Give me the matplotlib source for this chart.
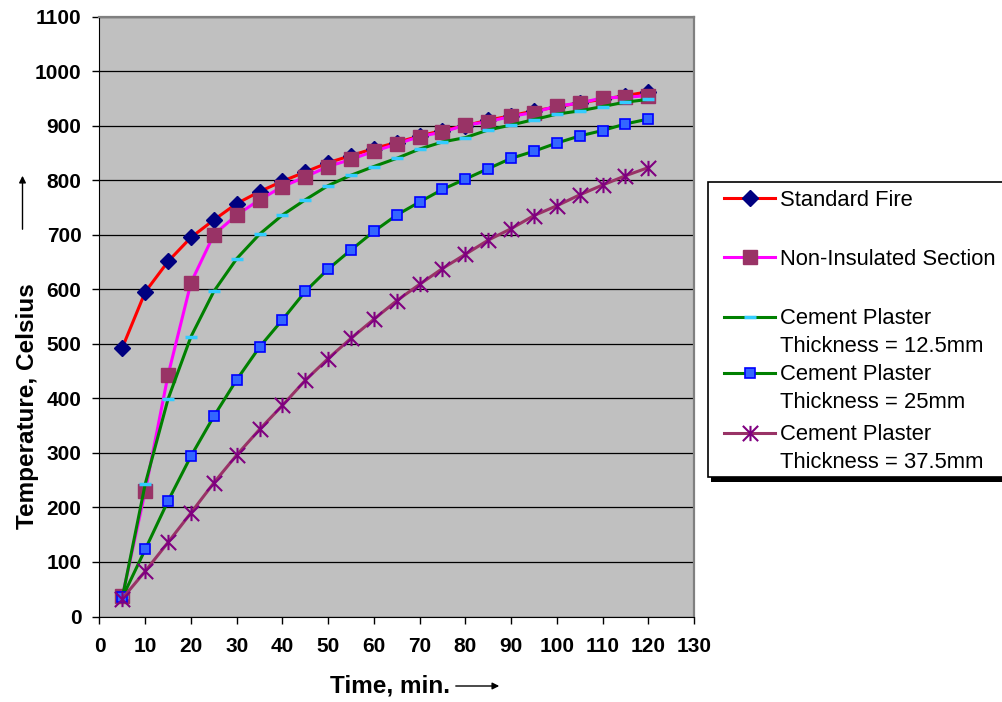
import matplotlib
matplotlib.use('Agg')
import matplotlib.pyplot as plt
from matplotlib.lines import Line2D
from matplotlib.patches import Rectangle
from matplotlib.path import Path

plt.rcParams['font.family'] = ['Liberation Sans', 'DejaVu Sans']

# data (minutes, deg C)
time = [5, 10, 15, 20, 25, 30, 35, 40, 45, 50, 55, 60,
        65, 70, 75, 80, 85, 90, 95, 100, 105, 110, 115, 120]
standard_fire = [493, 595, 651, 695, 727, 757, 779, 798, 815, 832, 845, 858,
                 869, 881, 891, 900, 910, 918, 927, 934, 942, 948, 955, 962]
non_insulated = [37, 230, 443, 612, 700, 736, 764, 788, 806, 825, 838, 853,
                 866, 880, 888, 901, 907, 917, 924, 936, 941, 951, 952, 955]
cement_12_5 = [35, 243, 399, 513, 596, 656, 701, 736, 764, 790, 809, 825,
               840, 857, 870, 878, 892, 901, 911, 921, 927, 935, 943, 948]
cement_25 = [35, 123, 212, 294, 367, 434, 494, 544, 596, 637, 672, 706,
             736, 760, 783, 802, 821, 840, 853, 868, 881, 891, 903, 912]
cement_37_5 = [33, 83, 136, 190, 245, 296, 343, 387, 433, 473, 510, 545,
               579, 609, 638, 664, 690, 711, 735, 753, 773, 791, 808, 823]

labels = ['Standard Fire', 'Non-Insulated Section',
          'Cement Plaster\nThickness = 12.5mm',
          'Cement Plaster\nThickness = 25mm',
          'Cement Plaster\nThickness = 37.5mm']
x_ticks = list(range(0, 140, 10))
y_ticks = list(range(0, 1200, 100))

# excel style asterisk: vertical bar + X
star = Path([(0, -1), (0, 1), (-1, -1), (1, 1), (-1, 1), (1, -1)],
            [Path.MOVETO, Path.LINETO] * 3)

styles = [
    dict(color='#FF0000', marker='D', ms=8, mfc='#000080', mec='#000080'),
    dict(color='#FF00FF', marker='s', ms=9.5, mfc='#993366', mec='#993366'),
    dict(color='#008000', marker='_', ms=9, mec='#33CCFF', mew=2.5),
    dict(color='#008000', marker='s', ms=7, mfc='#3366FF', mec='#0000FF', mew=1.2),
    dict(color='#993366', marker=star, ms=11, mfc='none', mec='#800080', mew=1.5),
]

W, H = 1003, 702
fig = plt.figure(figsize=(W / 100, H / 100), dpi=100)
ax = fig.add_axes([99.5 / W, 1 - 616.5 / H, (694 - 99.5) / W, 600 / H])
ax.set_facecolor('#C0C0C0')

series = [standard_fire, non_insulated, cement_12_5, cement_25, cement_37_5]
for i, (vals, st) in enumerate(zip(series, styles)):
    ax.plot(time, vals, lw=2.2, zorder=3 + i, clip_on=False, **st)

ax.set_xlim(0, 130)
ax.set_ylim(0, 1100)
ax.set_xticks(x_ticks)
ax.set_yticks(y_ticks)
ax.yaxis.grid(True, color='black', lw=0.9)
ax.set_axisbelow(True)
ax.tick_params(axis='both', direction='out', length=5, width=1, labelsize=15)
ax.tick_params(axis='x', pad=10)
ax.tick_params(axis='y', pad=8)
for lab in ax.get_xticklabels() + ax.get_yticklabels():
    lab.set_fontweight('bold')
for s in ['top', 'right']:
    ax.spines[s].set_color('#808080')
    ax.spines[s].set_linewidth(1.6)
for s in ['left', 'bottom']:
    ax.spines[s].set_color('black')

# axis titles with their arrows
fig.text(390 / W, 1 - 686 / H, 'Time, min.', ha='center', va='center',
         fontsize=17.5, fontweight='bold')
ax.annotate('', xy=(502, H - 686), xytext=(453, H - 686), xycoords='figure pixels',
            arrowprops=dict(arrowstyle='-|>', color='black', lw=1, mutation_scale=10))
fig.text(28 / W, 1 - 406 / H, 'Temperature, Celsius', ha='center', va='center',
         rotation=90, fontsize=17.5, fontweight='bold')
ax.annotate('', xy=(22.5, H - 173), xytext=(22.5, H - 232), xycoords='figure pixels',
            arrowprops=dict(arrowstyle='-|>', color='black', lw=1, mutation_scale=10))

# legend drawn by hand (handle sits on first text line)
fig.patches.append(Rectangle((711 / W, 1 - 482 / H), 300 / W, 297 / H,
                             transform=fig.transFigure, fc='black', ec='none', zorder=1))
fig.patches.append(Rectangle((708 / W, 1 - 477 / H), 300 / W, 295 / H,
                             transform=fig.transFigure, fc='white', ec='black',
                             lw=1.2, zorder=2))
leg_y = [198, 257, 317, 373, 433]
for lab, st, y in zip(labels, styles, leg_y):
    fy = 1 - y / H
    fig.add_artist(Line2D([724 / W, 775 / W], [fy, fy], transform=fig.transFigure,
                          color=st['color'], lw=2.2, zorder=3))
    mk = {k: v for k, v in st.items() if k != 'color'}
    fig.add_artist(Line2D([749.5 / W], [fy], transform=fig.transFigure,
                          ls='none', zorder=4, **mk))
    for j, line in enumerate(lab.split('\n')):
        fig.text(780 / W, 1 - (y + 7.5 + 27 * j) / H, line, ha='left',
                 va='baseline', fontsize=15.8, zorder=5)

fig.savefig('out.png', dpi=100)
